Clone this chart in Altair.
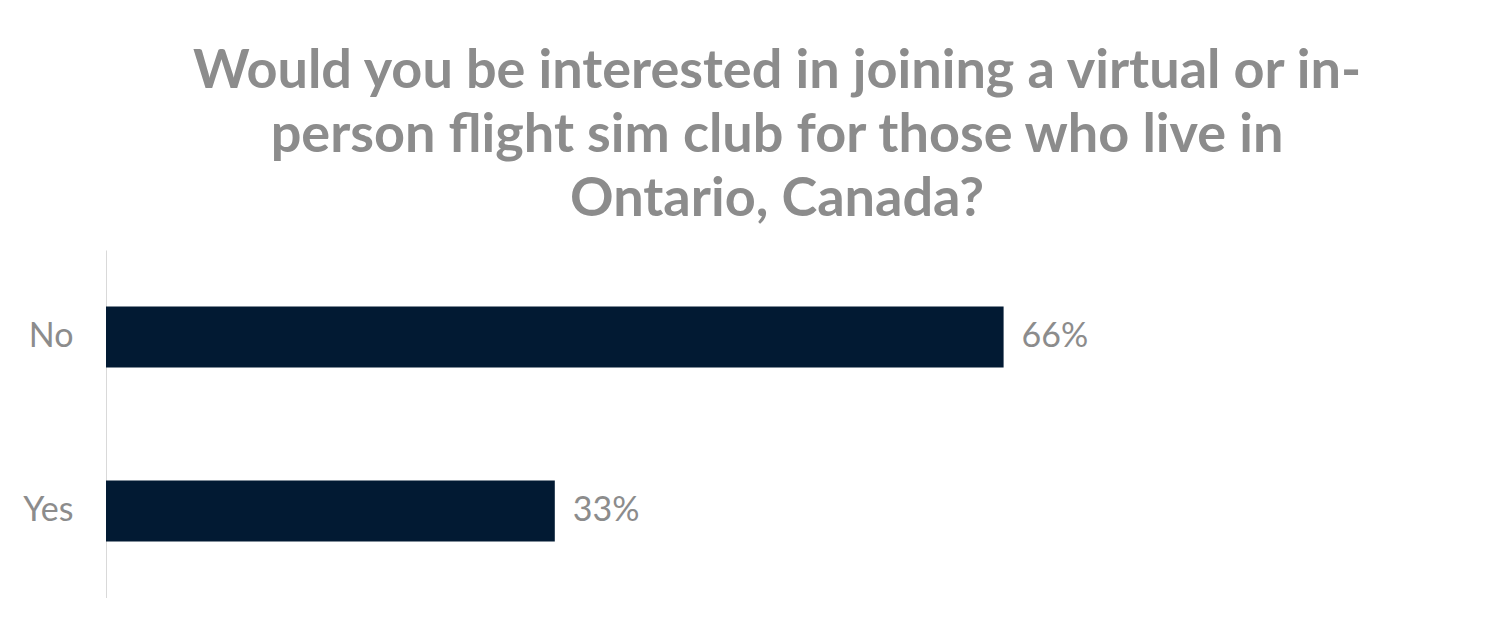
import altair as alt
import pandas as pd

answers = ["No", "Yes"]
pcts = [66, 33]
labels = ["66%", "33%"]
title_lines = [
    "Would you be interested in joining a virtual or in-",
    "person flight sim club for those who live in",
    "Ontario, Canada?",
]

df = pd.DataFrame({"answer": answers, "pct": pcts, "label": labels})

base = alt.Chart(df).encode(
    y=alt.Y(
        "answer:N",
        sort=answers,
        scale=alt.Scale(paddingInner=0.65, paddingOuter=0.325),
        axis=alt.Axis(
            title=None,
            domainColor="#d9d9d9",
            domainWidth=1,
            ticks=False,
            grid=False,
            labelFontSize=34,
            labelColor="#8c8c8c",
            labelFont="Lato",
            labelPadding=33,
        ),
    )
)

bars = base.mark_bar(color="#021a33").encode(
    x=alt.X("pct:Q", scale=alt.Scale(domain=[0, 100]), axis=None)
)
text = base.mark_text(
    align="left", baseline="middle", dx=18, font="Lato", fontSize=34, color="#8c8c8c"
).encode(x="pct:Q", text="label:N")

chart = (
    (bars + text)
    .properties(
        width=1360,
        height=348,
        title=alt.TitleParams(
            text=title_lines,
            fontSize=54,
            font="Lato",
            fontWeight="bold",
            color="#8c8c8c",
            anchor="middle",
            dx=-9,
            lineHeight=64,
            offset=23,
        ),
        autosize=alt.AutoSizeParams(type="none"),
        padding={"left": 98, "top": 242, "right": 0, "bottom": 0},
    )
    .configure_view(stroke=None)
)

chart.save("out.html", embed_options={"renderer": "svg", "actions": False})
